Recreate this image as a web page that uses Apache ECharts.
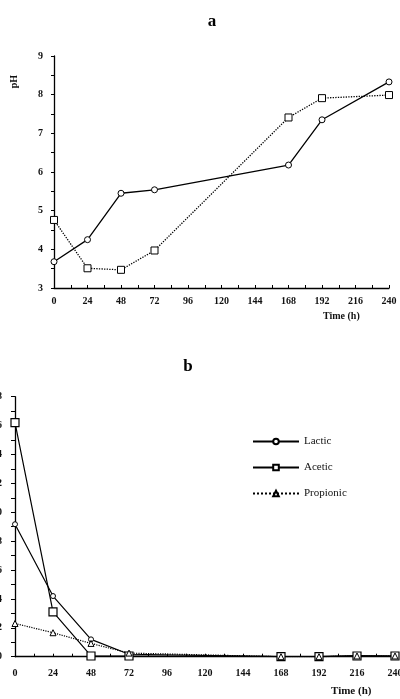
<!DOCTYPE html>
<html><head><meta charset="utf-8">
<script src="https://cdn.jsdelivr.net/npm/echarts@6/dist/echarts.min.js"></script>
<style>html,body{margin:0;padding:0;background:#fff}#c{width:400px;height:699px}</style>
</head><body><div id="c"></div>
<script>
var timesA = [0, 24, 48, 72, 168, 192, 240];
var phCircle = [3.68, 4.25, 5.45, 5.54, 6.18, 7.35, 8.33];
var phSquare = [4.76, 3.51, 3.47, 3.97, 7.41, 7.91, 7.99];
var timesB = [0, 24, 48, 72, 168, 192, 216, 240];
var lactic = [9.17, 4.2, 1.2, 0.17, 0, 0, 0.08, 0.05];
var acetic = [16.2, 3.1, 0.05, 0.05, 0, 0, 0.05, 0.05];
var propionic = [2.3, 1.66, 0.92, 0.25, 0, 0, 0.05, 0.05];
var xTicks = [0, 24, 48, 72, 96, 120, 144, 168, 192, 216, 240];

function pairs(xs, ys){ return xs.map(function(x,i){return [x, ys[i]];}); }
var font = 'Liberation Serif';
var lab = {fontFamily: font, fontWeight: 'bold', fontSize: 10, color: '#111'};
function xAx(gi, margin){
  return {type:'value', gridIndex: gi, min: 0, max: 240, interval: 24,
    axisLine:{lineStyle:{color:'#000', width:1.3}},
    axisTick:{inside:true, length:3, lineStyle:{color:'#000'}},
    minorTick:{show:true, splitNumber:2, length:3, lineStyle:{color:'#000'}},
    splitLine:{show:false},
    axisLabel: Object.assign({margin: margin, showMaxLabel:true, showMinLabel:true}, lab)};
}
var chart = echarts.init(document.getElementById('c'));
chart.setOption({
  animation: false,
  backgroundColor: '#fff',
  title: [
    {text:'a', left: 207, top: 8, textAlign:'center', textStyle:{fontFamily:font, fontWeight:'bold', fontSize:17, color:'#000'}},
    {text:'b', left: 183, top: 353, textAlign:'center', textStyle:{fontFamily:font, fontWeight:'bold', fontSize:17, color:'#000'}}
  ],
  grid: [
    {left: 54, right: 11, top: 56, height: 232, outerBoundsMode: 'none', containLabel: false},
    {left: 15, right: 5, top: 396.7, height: 260, outerBoundsMode: 'none', containLabel: false}
  ],
  xAxis: [xAx(0, 8), xAx(1, 12)],
  yAxis: [
    {type:'value', gridIndex:0, min:3, max:9, interval:1,
      axisLine:{show:true, lineStyle:{color:'#000', width:1.3}},
      axisTick:{show:true, length:3, lineStyle:{color:'#000'}},
      minorTick:{show:true, splitNumber:2, length:3, lineStyle:{color:'#000'}},
      splitLine:{show:false},
      axisLabel: Object.assign({margin: 11}, lab)},
    {type:'value', gridIndex:1, min:0, max:18, interval:2,
      axisLine:{show:true, lineStyle:{color:'#000', width:1.3}},
      axisTick:{show:true, length:4, lineStyle:{color:'#000'}},
      minorTick:{show:true, splitNumber:2, length:4, lineStyle:{color:'#000'}},
      splitLine:{show:false},
      axisLabel: Object.assign({margin: 13}, lab)}
  ],
  legend: {
    left: 247, top: 431, orient:'vertical', itemGap: 15, itemWidth: 46, itemHeight: 7,
    data: ['Lactic','Acetic','Propionic'],
    textStyle: {fontFamily: font, fontSize: 11, color:'#111'}
  },
  graphic: [
    {type:'text', left: 9, top: 75, rotation: Math.PI/2, style:{text:'pH', font:'bold 10px "Liberation Serif"', fill:'#111'}},
    {type:'text', left: 323, top: 311, style:{text:'Time (h)', font:'bold 10px "Liberation Serif"', fill:'#111'}},
    {type:'text', left: 331, top: 686, style:{text:'Time (h)', font:'bold 11px "Liberation Serif"', fill:'#111'}}
  ],
  series: [
    {type:'line', xAxisIndex:0, yAxisIndex:0, data: pairs(timesA, phCircle), symbol:'circle', symbolSize:6,
      itemStyle:{color:'#fff', borderColor:'#000', borderWidth:1}, lineStyle:{color:'#000', width:1.3}},
    {type:'line', xAxisIndex:0, yAxisIndex:0, data: pairs(timesA, phSquare), symbol:'rect', symbolSize:7,
      itemStyle:{color:'#fff', borderColor:'#000', borderWidth:1}, lineStyle:{color:'#000', width:1.3, type:'dotted'}},
    {name:'Lactic', type:'line', xAxisIndex:1, yAxisIndex:1, data: pairs(timesB, lactic), symbol:'circle', symbolSize:5,
      itemStyle:{color:'#fff', borderColor:'#000', borderWidth:1}, lineStyle:{color:'#000', width:1.2}},
    {name:'Acetic', type:'line', xAxisIndex:1, yAxisIndex:1, data: pairs(timesB, acetic), symbol:'rect', symbolSize:8,
      itemStyle:{color:'#fff', borderColor:'#000', borderWidth:1.2}, lineStyle:{color:'#000', width:1.2}},
    {name:'Propionic', type:'line', xAxisIndex:1, yAxisIndex:1, data: pairs(timesB, propionic), symbol:'triangle', symbolSize:6,
      itemStyle:{color:'#fff', borderColor:'#000', borderWidth:1}, lineStyle:{color:'#000', width:1.2, type:'dotted'}}
  ]
});
</script></body></html>
